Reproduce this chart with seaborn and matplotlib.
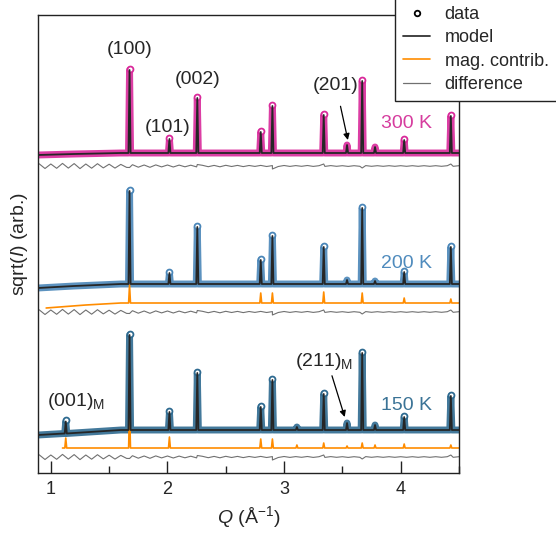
import numpy as np
import pandas as pd
import matplotlib
matplotlib.use('Agg')
import matplotlib.pyplot as plt
from matplotlib.lines import Line2D
from matplotlib.ticker import MultipleLocator
import seaborn as sns

# Bragg peak positions (1/A) and peak heights (arb. offset units)
peak_q = [1.128, 1.675, 2.017, 2.256, 2.800, 2.900, 3.110, 3.340, 3.540, 3.670, 3.780, 4.030, 4.430]
height_300 = [0, 83, 14, 55, 21, 47, 0, 38, 8, 72, 6, 13, 37]
height_200 = [0, 93, 11, 57, 24, 48, 0, 37, 4, 76, 3, 12, 37]
height_150 = [12, 95, 18, 57, 23, 50, 3, 36, 7, 77, 5, 13, 34]
mag_200 = [0, 18, 0, 0, 10, 10, 0, 11, 0, 10, 0, 5, 4]
mag_150 = [10, 40, 11, 0, 9, 9, 3, 5, 2, 5, 3, 4, 3]

# background levels (with the vertical offsets of the stack)
bg_q = [0.89, 1.20, 1.60, 4.50]
bg_300 = [318, 319, 320, 320]
bg_200 = [185, 187, 189, 189]
bg_150 = [38, 40, 43, 43]
mag_bg_q_200 = [0.96, 1.30, 1.60, 4.50]
mag_bg_200 = [165, 168, 170, 170]
mag_bg_q_150 = [1.10, 1.60, 4.50]
mag_bg_150 = [25, 25, 25]

# difference curves: offsets plus residuals read on a 0.05 grid
diff_level = {'300 K': 307, '200 K': 161, '150 K': 16}
res_q = np.round(np.arange(0.90, 4.501, 0.05), 2)
residual = [2.2, -2.5, 2.0, -2.3, 2.6, -2.1, 2.4, -2.6, 2.0, -2.2,
            2.3, -1.9, 1.8, -2.1, 1.6, -1.4, 1.3, -1.2, 1.0, -1.3,
            1.1, -0.9, 1.0, -1.0, 0.9, -0.8, 0.8, -0.9, 0.7, -0.7,
            0.6, -0.8, 0.7, -0.5, 0.6, -0.6, 0.5, -0.4, 0.6, -0.5,
            0.4, -0.5, 0.5, -0.4, 0.4, -0.3, 0.5, -0.4, 0.3, -0.4,
            0.4, -0.3, 0.3, -0.4, 0.3, -0.3, 0.4, -0.3, 0.3, -0.3,
            0.3, -0.3, 0.3, -0.3, 0.3, -0.3, 0.3, -0.3, 0.3, -0.3,
            0.3, -0.3, 0.3]
spike_q = [1.675, 2.256, 2.900, 3.340, 3.670, 4.430]
spike = [-1.5, 1.5, -3.0, 2.0, -2.0, 2.0]

colors = {'300 K': '#d9299a', '200 K': '#4a86b8', '150 K': '#2e6a90'}
text_colors = {'300 K': '#d63c9e', '200 K': '#4f8bbd', '150 K': '#3a7396'}
orange = '#ff8c00'


def profile(bq, bval, heights, w=0.009):
    xs, ys = list(bq), list(bval)
    for q, h in zip(peak_q, heights):
        if h > 0 and bq[0] < q:
            base = np.interp(q, bq, bval)
            xs += [q - w, q, q + w]
            ys += [base, base + h, base]
    order = np.argsort(xs)
    return pd.DataFrame({'Q': np.array(xs)[order], 'y': np.array(ys)[order]})


def difference(level):
    xs = np.concatenate([res_q, spike_q])
    ys = np.concatenate([np.array(residual), np.array(spike)]) + level
    order = np.argsort(xs)
    return pd.DataFrame({'Q': xs[order], 'y': ys[order]})


sns.set_theme(style='ticks')
plt.rcParams['font.family'] = ['Liberation Sans', 'DejaVu Sans']
plt.rcParams['mathtext.fontset'] = 'custom'
plt.rcParams['mathtext.rm'] = 'Liberation Sans'
plt.rcParams['mathtext.it'] = 'Liberation Sans:italic'

fig = plt.figure(figsize=(5.56, 5.33), dpi=100)
ax = fig.add_axes([38 / 556, 60 / 533, 421 / 556, 458 / 533])

patterns = [('300 K', bg_300, height_300, None),
            ('200 K', bg_200, height_200, (mag_bg_q_200, mag_bg_200, mag_200)),
            ('150 K', bg_150, height_150, (mag_bg_q_150, mag_bg_150, mag_150))]

for name, bg, heights, mag in patterns:
    c = colors[name]
    calc = profile(bg_q, bg, heights)
    # observed data: dense points drawn as a thick band, open circles at peak tops
    sns.lineplot(data=calc, x='Q', y='y', ax=ax, color=c, lw=5, alpha=0.9,
                 estimator=None, sort=False, solid_capstyle='round')
    tops_q = [q for q, h in zip(peak_q, heights) if h >= 10]
    tops_y = [np.interp(q, bg_q, bg) + h + 1.5 for q, h in zip(peak_q, heights) if h >= 10]
    ax.scatter(tops_q, tops_y, s=18, facecolor='white', edgecolor=c, linewidth=1.3, zorder=3)
    sns.lineplot(data=calc, x='Q', y='y', ax=ax, color='#262626', lw=1.3,
                 estimator=None, sort=False, zorder=4)
    if mag is not None:
        mcalc = profile(mag[0], mag[1], mag[2], w=0.008)
        sns.lineplot(data=mcalc, x='Q', y='y', ax=ax, color=orange, lw=1.2,
                     estimator=None, sort=False)
    sns.lineplot(data=difference(diff_level[name]), x='Q', y='y', ax=ax,
                 color='#707070', lw=0.8, estimator=None, sort=False)

# labels
txt = dict(fontsize=14, ha='center', va='center')
ax.text(1.675, 423, '(100)', **txt)
ax.text(2.000, 346, '(101)', **txt)
ax.text(2.256, 393, '(002)', **txt)
ax.annotate('(201)', xy=(3.547, 333), xytext=(3.444, 388), fontsize=14,
            ha='center', va='center',
            arrowprops=dict(arrowstyle='-|>', color='black', lw=0.9,
                            mutation_scale=9, shrinkA=7, shrinkB=0))
ax.text(0.966, 72, '(001)$_\\mathregular{M}$', fontsize=14, ha='left', va='center')
ax.annotate('(211)$_\\mathregular{M}$', xy=(3.52, 56), xytext=(3.094, 111), fontsize=14,
            ha='left', va='center',
            arrowprops=dict(arrowstyle='-|>', color='black', lw=0.9,
                            mutation_scale=9, shrinkA=0, shrinkB=0,
                            relpos=(0.62, 0.0)))
ax.text(4.05, 350, '300 K', color=text_colors['300 K'], **txt)
ax.text(4.05, 209, '200 K', color=text_colors['200 K'], **txt)
ax.text(4.05, 68, '150 K', color=text_colors['150 K'], **txt)

ax.set_xlim(0.89, 4.50)
ax.set_ylim(0, 458)
ax.set_yticks([])
ax.set_xticks([1, 2, 3, 4])
ax.xaxis.set_minor_locator(MultipleLocator(0.5))
ax.tick_params(axis='x', which='major', direction='in', length=8.5, width=1,
               labelsize=13, pad=6, color='#222222')
ax.tick_params(axis='x', which='minor', direction='in', length=5, width=1, color='#222222')
for s in ax.spines.values():
    s.set_linewidth(1.0)
    s.set_color('#222222')
ax.set_xlabel('$\\mathit{Q}$ (Å$^{-1}$)', fontsize=14, labelpad=4)
ax.set_ylabel('sqrt($\\mathit{I}$) (arb.)', fontsize=14, labelpad=6)

handles = [Line2D([], [], ls='none', marker='o', ms=4, mfc='white', mec='black', mew=1.3),
           Line2D([], [], color='#333333', lw=1.3),
           Line2D([], [], color=orange, lw=1.2),
           Line2D([], [], color='#707070', lw=0.9)]
leg = fig.legend(handles, ['data', 'model', 'mag. contrib.', 'difference'],
                 loc='upper left', bbox_to_anchor=(395 / 556, 1.004), fontsize=13,
                 frameon=True, fancybox=False, framealpha=1, edgecolor='#222222',
                 handlelength=1.5, borderaxespad=0, borderpad=0.45, labelspacing=0.35)
leg.get_frame().set_linewidth(1.0)

fig.savefig('out.png', dpi=100)
